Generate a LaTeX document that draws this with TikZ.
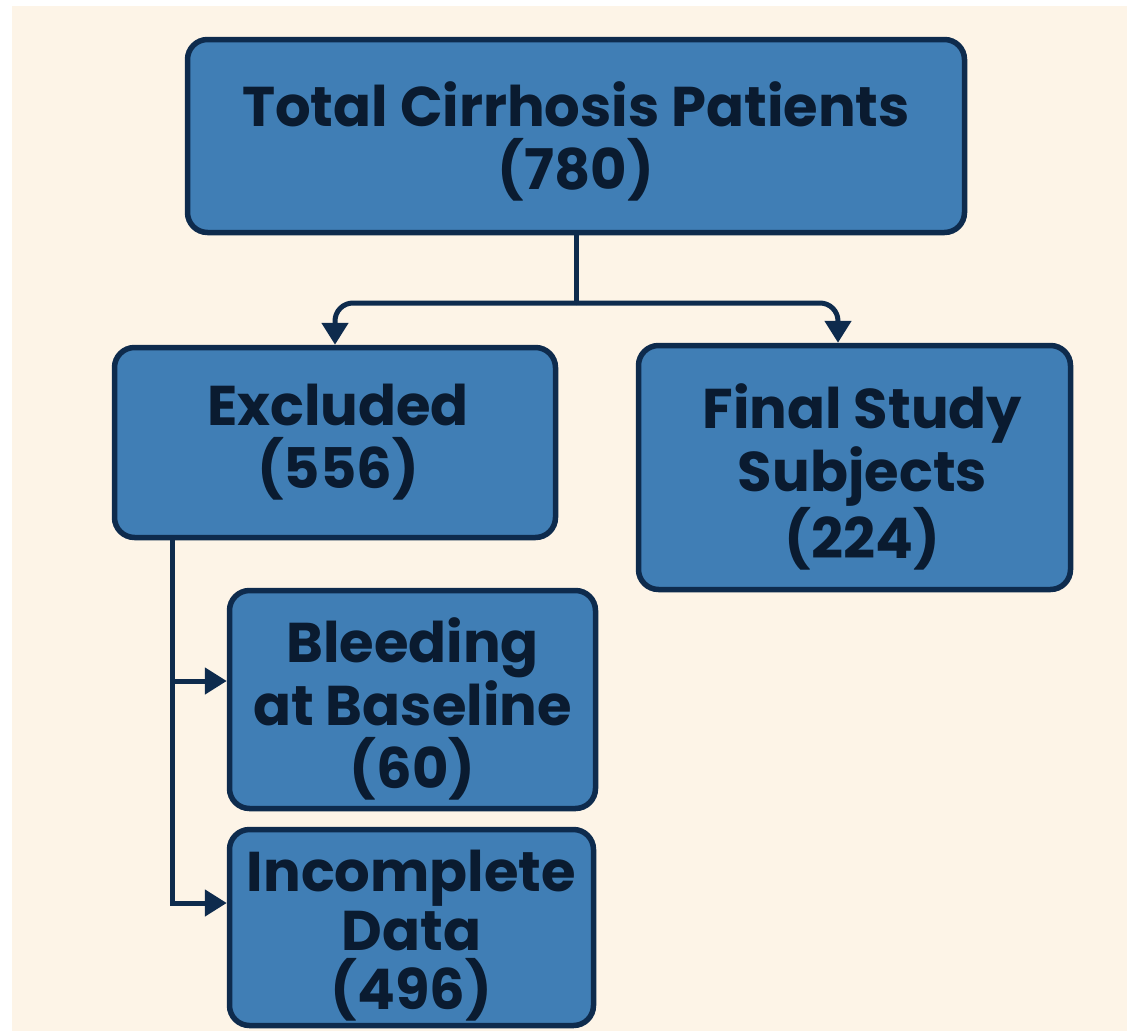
\documentclass[tikz,border=0pt]{standalone}
\usepackage{fontspec}
\setmainfont{Poppins}
\usetikzlibrary{arrows.meta,calc}
\definecolor{bg}{HTML}{FDF4E7}
\definecolor{boxfill}{HTML}{407EB5}
\definecolor{boxline}{HTML}{0E2B4D}
\definecolor{txt}{HTML}{0A1B30}
\begin{document}
\begin{tikzpicture}[x=1pt,y=-1pt,
  flowbox/.style={draw=boxline, fill=boxfill, line width=5.5pt, rounded corners=20pt, inner sep=0pt},
  lbl/.style={align=center, text=txt, font=\bfseries\fontsize{56}{63}\selectfont, inner sep=0pt},
  lbltight/.style={lbl, font=\bfseries\fontsize{56}{59}\selectfont},
  conn/.style={draw=boxline, line width=5pt},
  arr/.style={conn, -{Triangle[length=22pt,width=26pt]}}]
\fill[white] (0,0) rectangle (1127,1031);
\fill[bg] (12,6) rectangle (1127,1031);
\useasboundingbox (0,0) rectangle (1127,1031);

\node[flowbox, minimum width=777pt, minimum height=193pt] (top) at (576,136) {};
\node[lbl] (topt) at ($(top.center)+(0,5)$) {Total Cirrhosis Patients\\(780)};
\node[flowbox, minimum width=441pt, minimum height=190pt] (excl) at (335,442.5) {};
\node[lbl] (exclt) at ($(excl.center)+(3,0)$) {Excluded\\(556)};
\node[flowbox, minimum width=432pt, minimum height=244pt] (final) at (854.5,467.5) {};
\node[lbl] (finalt) at ($(final.center)+(8,9)$) {Final Study\\Subjects\\(224)};
\node[flowbox, minimum width=366pt, minimum height=218pt] (bleed) at (412.5,699.5) {};
\node[lbl] (bleedt) at ($(bleed.center)+(0,9)$) {Bleeding\\at Baseline\\(60)};
\node[flowbox, minimum width=364pt, minimum height=196pt] (inc) at (411.5,927.5) {};
\node[lbltight] (inct) at ($(inc.center)+(0,8)$) {Incomplete\\Data\\(496)};

\coordinate (j) at (576,303);
\coordinate (fr) at (838,303);
\draw[conn] (top.south) -- (j);
\draw[arr, rounded corners=18pt] (j) -| (excl.north);
\draw[arr, rounded corners=18pt] (j) -| (fr |- final.north);

\coordinate (bj) at (172,681);
\coordinate (ij) at (172,903);
\draw[conn] (excl.south -| bj) -- (bj);
\draw[arr] (bj) -- (bj -| bleed.west);
\draw[arr] (bj) -- (ij) -- (ij -| inc.west);
\end{tikzpicture}
\end{document}
